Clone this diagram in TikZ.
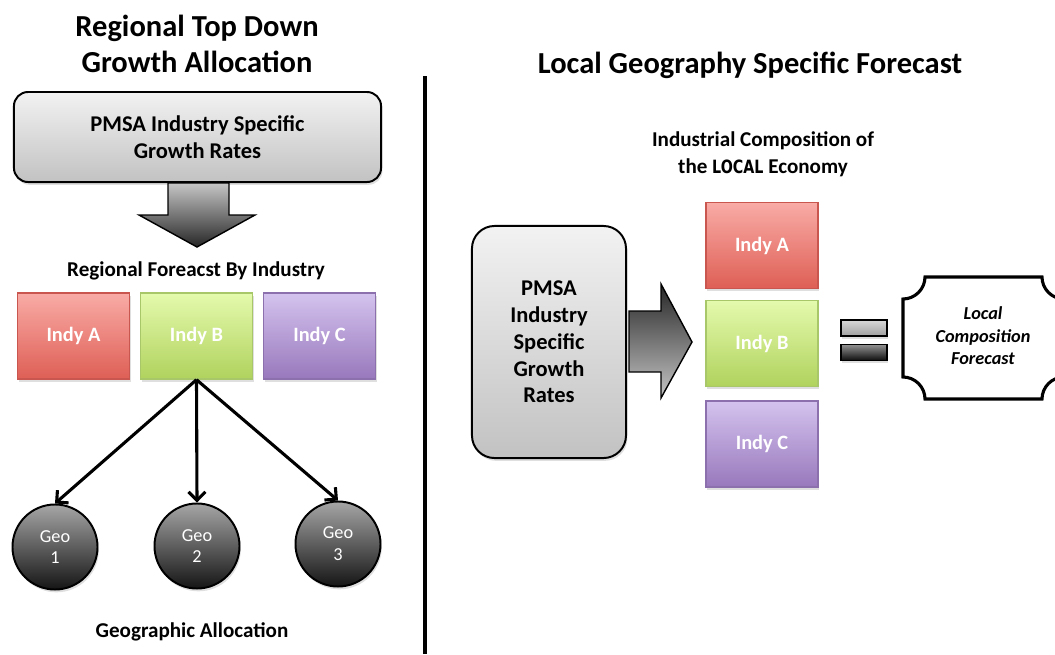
\documentclass[tikz,border=0pt]{standalone}
\usepackage{fontspec}
\setmainfont{Carlito}
\newfontfamily\heavyfont{DejaVu Sans}
\usepackage{graphicx}
\usetikzlibrary{arrows.meta, shadows}

\definecolor{boxtop}{HTML}{F2F2F2}
\definecolor{boxbot}{HTML}{C2C2C2}
\definecolor{redtop}{HTML}{F9ABA6}
\definecolor{redbot}{HTML}{DE5F55}
\definecolor{redline}{HTML}{C9574F}
\definecolor{greentop}{HTML}{E4FAAD}
\definecolor{greenbot}{HTML}{B0D25D}
\definecolor{greenline}{HTML}{A8C768}
\definecolor{purptop}{HTML}{D4C3EE}
\definecolor{purpbot}{HTML}{9878BC}
\definecolor{purpline}{HTML}{8C70AE}
\definecolor{geotop}{HTML}{A6A6A6}
\definecolor{geobot}{HTML}{151515}

\begin{document}
\begin{tikzpicture}[
    x=0.025cm, y=-0.025cm,
    title/.style={font=\fontsize{21.7}{26}\selectfont\bfseries, align=center},
    caption/.style={font=\fontsize{15}{19}\selectfont\bfseries, align=center},
    greybox/.style={rectangle, draw, line width=1.4pt, top color=boxtop, bottom color=boxbot,
        align=center, font=\fontsize{16}{19}\selectfont\bfseries,
        drop shadow={shadow xshift=1pt, shadow yshift=-2pt, opacity=0.25}},
    indy/.style={rectangle, draw, line width=1pt, minimum width=2.8cm, minimum height=2.15cm,
        text=white, font=\fontsize{14.5}{17}\selectfont\bfseries,
        drop shadow={shadow xshift=1pt, shadow yshift=-2pt, opacity=0.25}},
    geo/.style={circle, draw, line width=1.4pt, minimum size=2.125cm, top color=geotop,
        bottom color=geobot, text=white, align=center, font=\fontsize{13}{15.5}\selectfont,
        drop shadow={shadow xshift=1pt, shadow yshift=-2pt, opacity=0.25}},
    eqbar/.style={rectangle, draw, line width=1.2pt, minimum width=1.15cm, minimum height=0.4cm,
        drop shadow={shadow xshift=1pt, shadow yshift=-2pt, opacity=0.25}},
    arrow/.style={-{Straight Barb[length=6pt, width=12pt]}, line width=2.2pt}
]
    \clip (0,0) rectangle (1055,654);

    % left half
    \node[title] (tleft) at (197,44) {Regional Top Down\\Growth Allocation};
    \node[greybox, rounded corners=10pt, minimum width=9.175cm, minimum height=2.25cm]
        (pmsa) at (197.5,137) {PMSA Industry Specific\\Growth Rates};
    \path[draw, line width=1pt, top color=gray!45, bottom color=black!85]
        (168,183) -- (229,183) -- (229,215) -- (255,215) -- (197,247)
        -- (139,215) -- (168,215) -- cycle;
    \node[caption] (regfc) at (196,271) {Regional Foreacst By Industry};
    \node[indy, draw=redline, top color=redtop, bottom color=redbot] (la) at (73.5,336) {Indy A};
    \node[indy, draw=greenline, top color=greentop, bottom color=greenbot] (lb) at (196.5,336) {Indy B};
    \node[indy, draw=purpline, top color=purptop, bottom color=purpbot] (lc) at (319.5,336) {Indy C};
    \node[geo] (g1) at (55,547) {Geo\\1};
    \node[geo] (g2) at (197,546) {Geo\\2};
    \node[geo] (g3) at (338,544) {Geo\\3};
    \draw[arrow] (lb.south) -- (g1.north);
    \draw[arrow] (lb.south) -- (g2.north);
    \draw[arrow] (lb.south) -- (g3.north);
    \node[caption] (geoal) at (192,632) {Geographic Allocation};

    \draw[line width=2.8pt] (425,76) -- (425,654);

    % right half
    \node[title] (tright) at (750,65) {Local Geography Specific Forecast};
    \node[caption] (comp) at (763,154) {Industrial Composition of\\the
        {\heavyfont\bfseries\fontsize{13}{15}\selectfont\scalebox{0.78}[1]{LOCAL}} Economy};
    \node[greybox, rounded corners=16pt, minimum width=3.85cm, minimum height=5.8cm,
        font=\fontsize{16}{19}\selectfont\bfseries] (pmsar) at (549,342)
        {PMSA\\Industry\\Specific\\Growth\\Rates};
    \path[draw, line width=1pt, top color=black!85, bottom color=gray!45]
        (629,311) -- (661,311) -- (661,284) -- (692,342) -- (661,398)
        -- (661,372) -- (629,372) -- cycle;
    \node[indy, draw=redline, top color=redtop, bottom color=redbot] (ra) at (762,245.5) {Indy A};
    \node[indy, draw=greenline, top color=greentop, bottom color=greenbot] (rb) at (762,343.5) {Indy B};
    \node[indy, draw=purpline, top color=purptop, bottom color=purpbot] (rc) at (762,444) {Indy C};
    \node[eqbar, top color=gray!30, bottom color=gray!75] (eq1) at (864,328) {};
    \node[eqbar, top color=gray!85, bottom color=black!95] (eq2) at (864,352.5) {};
    \draw[line width=2.2pt, fill=white]
        (925,277) -- (1042,277) .. controls (1042,289) and (1052,299) .. (1064,299)
        -- (1064,377) .. controls (1052,377) and (1042,387) .. (1042,399)
        -- (925,399) .. controls (925,387) and (915,377) .. (903,377)
        -- (903,299) .. controls (915,299) and (925,289) .. (925,277) -- cycle;
    \node[align=center, font=\fontsize{13}{16}\selectfont\bfseries\itshape] (lcf) at (983,336)
        {Local\\Composition\\Forecast};
\end{tikzpicture}
\end{document}
